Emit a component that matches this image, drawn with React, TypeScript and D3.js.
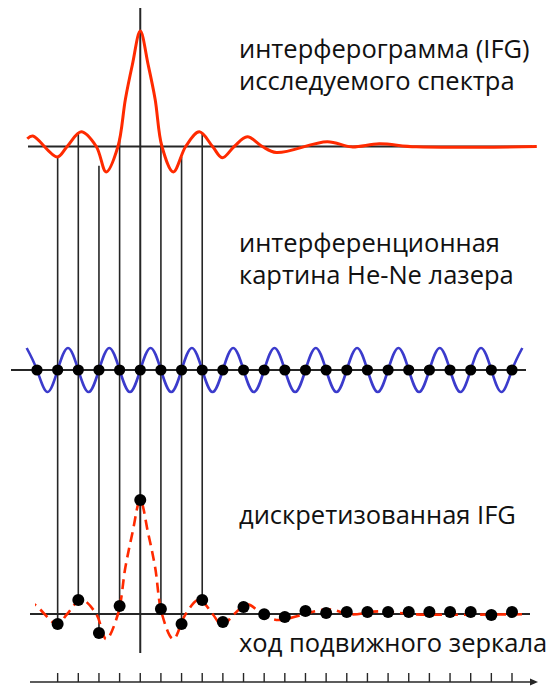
import * as d3 from 'd3';

// IFG curve of the studied spectrum (x in laser-fringe units, 0 = zero path difference)
const ifgU = [-5.47, -5.2, -4.02, -3.54, -2.86, -2.13, -1.65, -1.08, -0.72, -0.38, 0, 0.38, 0.72, 1.05, 1.6, 2.2, 2.86, 3.5, 3.97, 4.55, 5.18, 5.91, 6.59, 9.06, 10.22, 11.57, 13.37, 19.2];
const ifgV = [0.067, 0.09, -0.09, 0, 0.127, 0, -0.22, 0, 0.41, 0.71, 1, 0.71, 0.41, 0, -0.22, 0, 0.127, 0, -0.098, 0, 0.084, 0, -0.052, 0.041, -0.003, 0.023, -0.003, 0];

// He-Ne laser fringe: extrema at half-integer positions starting at -5.5
const laserPeaks = [1, -1, 1, -1, 1, -1, 1, -1, 1, -1, 1, -1, 1, -1, 1, -1, 1, -1, 1, -1, 1, -1, 1, -1, 1];
const laserStart = -5.5;

// zero crossings of the laser signal (sampling points)
const fringeU = [-5, -4, -3, -2, -1, 0, 1, 2, 3, 4, 5, 6, 7, 8, 9, 10, 11, 12, 13, 14, 15, 16, 17, 18];

// discretized IFG
const sampledU = [-4, -3, -2, -1, 0, 1, 2, 3, 4, 5, 6, 7, 8, 9, 10, 11, 12, 13, 14, 15, 16, 17, 18];
const sampledV = [-0.088, 0.123, -0.167, 0.07, 1.0, 0.044, -0.088, 0.123, -0.07, 0.061, -0.003, -0.026, 0.026, 0.009, 0.018, 0.018, 0.018, 0.018, 0.018, 0.018, 0.018, -0.009, 0.018];

// samples projected with vertical lines
const projectedU = [-4, -3, -2, -1, 1, 2, 3];

// mirror travel ticks
const tickU = [-4, -3, -2, -1, 0, 1, 2, 3, 4, 5, 6, 7, 8, 9, 10, 11, 12, 13, 14, 15, 16, 17, 18];

const labels = [
  'интерферограмма (IFG)',
  'исследуемого спектра',
  'интерференционная',
  'картина He-Ne лазера',
  'дискретизованная IFG',
  'ход подвижного зеркала',
];

const width = 548;
const height = 688;

export default function App() {
  const x = d3.scaleLinear().domain([-5, 18]).range([37, 512]);
  const yTop = d3.scaleLinear().domain([0, 1]).range([146.5, 31]);
  const yMid = d3.scaleLinear().domain([-1, 1]).range([392, 348]);
  const yBot = d3.scaleLinear().domain([0, 1]).range([614, 500]);

  const ifg = ifgU.map((u, i) => [u, ifgV[i]] as [number, number]);

  const topLine = d3.line<[number, number]>()
    .x(d => x(d[0]))
    .y(d => yTop(d[1]))
    .curve(d3.curveCatmullRom.alpha(0.5));

  const botLine = d3.line<[number, number]>()
    .x(d => x(d[0]))
    .y(d => yBot(d[1]))
    .curve(d3.curveCatmullRom.alpha(0.5));

  // laser points: extrema + zero crossings between them
  const laserPts: [number, number][] = [];
  laserPeaks.forEach((p, i) => {
    const u = laserStart + i;
    laserPts.push([u, p]);
    if (i < laserPeaks.length - 1) laserPts.push([u + 0.5, 0]);
  });
  const laserLine = d3.line<[number, number]>()
    .x(d => x(d[0]))
    .y(d => yMid(d[1]))
    .curve(d3.curveNatural);

  const ink = '#262626';
  const red = '#ff2a00';
  const font = '"Open Sans", sans-serif';
  const axisY = 682;

  return (
    <svg width={width} height={height} style={{ position: 'absolute', left: 0, top: 0 }}>
      <defs>
        <clipPath id="botclip">
          <rect x={35} y={450} width={487} height={220} />
        </clipPath>
      </defs>

      {/* baselines */}
      <line x1={28} x2={532} y1={yTop(0)} y2={yTop(0)} stroke={ink} strokeWidth={2} />
      <line x1={11} x2={526} y1={yMid(0)} y2={yMid(0)} stroke={ink} strokeWidth={2} />
      <line x1={30} x2={530} y1={yBot(0)} y2={yBot(0)} stroke={ink} strokeWidth={2} />

      {/* zero path difference axis */}
      <line x1={x(0)} x2={x(0)} y1={8} y2={653} stroke={ink} strokeWidth={2} />

      {/* projection lines */}
      {projectedU.map(u => {
        const v = sampledV[sampledU.indexOf(u)];
        return (
          <line key={u} x1={x(u)} x2={x(u)} y1={yTop(v)} y2={yBot(v)} stroke={ink} strokeWidth={1.6} />
        );
      })}

      {/* IFG */}
      <path d={topLine(ifg) || ''} fill="none" stroke={red} strokeWidth={3} strokeLinejoin="round" />

      {/* laser */}
      <path d={laserLine(laserPts) || ''} fill="none" stroke="#3b3bcc" strokeWidth={2.6} />
      {fringeU.map(u => (
        <circle key={u} cx={x(u)} cy={yMid(0)} r={5.6} fill="#000" />
      ))}

      {/* discretized IFG */}
      <path d={botLine(ifg) || ''} fill="none" stroke={red} strokeWidth={2.6}
        strokeDasharray="10 6" clipPath="url(#botclip)" />
      {sampledU.map((u, i) => (
        <circle key={u} cx={x(u)} cy={yBot(sampledV[i])} r={6} fill="#000" />
      ))}

      {/* mirror travel axis */}
      <line x1={30} x2={532} y1={axisY} y2={axisY} stroke={ink} strokeWidth={1.6} />
      <path d={`M530,${axisY - 3.5} L538,${axisY} L530,${axisY + 3.5} Z`} fill={ink} />
      {tickU.map(u => (
        <line key={u} x1={x(u)} x2={x(u)} y1={axisY - 9} y2={axisY} stroke={ink} strokeWidth={1.4} />
      ))}

      {/* labels */}
      <g fontFamily={font} fontSize={25.5} fill="#111">
        <text x={239} y={58}>{labels[0]}</text>
        <text x={239} y={90}>{labels[1]}</text>
        <text x={239} y={252}>{labels[2]}</text>
        <text x={239} y={284}>{labels[3]}</text>
        <text x={239} y={524}>{labels[4]}</text>
        <text x={239} y={652}>{labels[5]}</text>
      </g>
    </svg>
  );
}
